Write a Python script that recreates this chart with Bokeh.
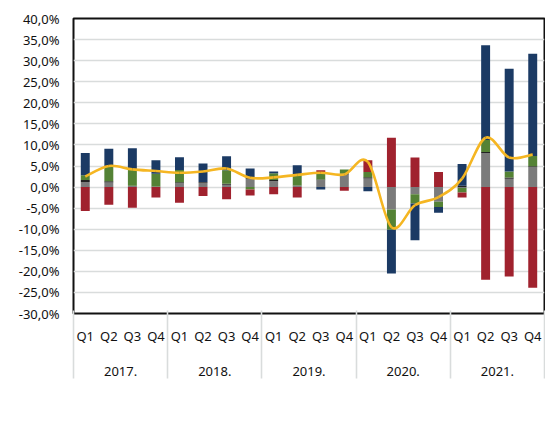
import numpy as np
from bokeh.plotting import figure
from bokeh.models import Range1d, FixedTicker, LinearAxis, Legend, LegendItem
from bokeh.embed import file_html
from bokeh.resources import INLINE

years = ["2017.", "2018.", "2019.", "2020.", "2021."]
quarters = ["Q1", "Q2", "Q3", "Q4"]

# contributions to GDP growth, percentage points
households = [1.2, 1.1, 0.2, 0.1,
              0.9, 1.0, 0.55, 2.0,
              1.4, 0.3, 1.6, 3.0,
              2.05, -5.3, -1.7, -3.5,
              -0.2, 8.1, 2.0, 4.75]
government = [0.5, 0.3, 0.1, 0.05,
              0.25, 0.2, 0.25, 0.2,
              0.3, 0.1, 0.2, 0.15,
              0.3, 0.0, 0.0, 0.0,
              0.3, 0.25, 0.3, 0.2]
investment = [1.1, 3.5, 3.8, 3.0,
              2.9, 0.0, 3.2, -0.6,
              1.6, 2.7, 1.4, 1.0,
              1.2, -4.8, -2.2, -1.2,
              -1.1, 2.8, 1.4, 2.4]
exports = [5.3, 4.2, 5.1, 3.2,
           3.0, 4.4, 3.3, 2.2,
           0.4, 2.1, -0.6, 0.0,
           -1.0, -10.4, -8.7, -1.4,
           5.2, 22.5, 24.4, 24.3]
imports = [-5.7, -4.2, -4.9, -2.5,
           -3.7, -2.1, -2.9, -1.4,
           -1.7, -2.5, 0.8, -0.9,
           2.8, 11.7, 7.0, 3.6,
           -1.2, -22.0, -21.2, -23.9]
gdp = [2.5, 5.0, 4.2, 3.8,
       3.4, 3.7, 4.4, 2.2,
       2.3, 2.9, 3.4, 3.0,
       6.0, -9.5, -4.3, -2.4,
       2.0, 11.7, 7.0, 7.7]
y_ticks = list(range(-30, 45, 5))

series = [
    ("Potrošnja domaćinstva", households, "#7b7b7b"),
    ("Potrošnja vlade", government, "#222222"),
    ("Bruto investicije", investment, "#548235"),
    ("Izvoz", exports, "#1b3a64"),
    ("Uvoz", imports, "#a0222e"),
]

FONT = "Noto Sans"
FS = "13px"
TXT = "#111111"
GRID = "#d9dcdc"
n = len(gdp)
xs = np.arange(n) + 0.5

p = figure(frame_width=471, frame_height=295, x_range=Range1d(0, n), y_range=Range1d(-30, 40),
           output_backend="svg", toolbar_location=None,
           min_border_left=73, min_border_top=18, min_border_right=1, min_border_bottom=0)
p.background_fill_color = "white"
p.border_fill_color = "white"
p.outline_line_color = TXT
p.outline_line_width = 2

renderers = []
pos_base = np.zeros(n)
neg_base = np.zeros(n)
for name, vals, color in series:
    v = np.array(vals, dtype=float)
    bottom = np.where(v >= 0, pos_base, neg_base)
    top = bottom + v
    pos_base = np.where(v >= 0, top, pos_base)
    neg_base = np.where(v < 0, top, neg_base)
    r = p.vbar(x=xs, bottom=bottom, top=top, width=0.38, fill_color=color, line_color=None)
    renderers.append((name, r))

# smoothed GDP line (cubic Bezier segments through the data points)
y = np.array(gdp, dtype=float)
xp = np.concatenate([[xs[0]], xs, [xs[-1]]])
yp = np.concatenate([[y[0]], y, [y[-1]]])
x0, y0 = xs[:-1], y[:-1]
x1, y1 = xs[1:], y[1:]
cx0 = x0 + (xp[2:-1] - xp[0:-3]) / 6.0
cy0 = y0 + (yp[2:-1] - yp[0:-3]) / 6.0
cx1 = x1 - (xp[3:] - xp[1:-2]) / 6.0
cy1 = y1 - (yp[3:] - yp[1:-2]) / 6.0
p.bezier(x0=x0, y0=y0, x1=x1, y1=y1, cx0=cx0, cy0=cy0, cx1=cx1, cy1=cy1,
         line_color="#f5b622", line_width=2.6)

# y axis
p.yaxis.ticker = FixedTicker(ticks=y_ticks)
p.yaxis.major_label_overrides = {t: f"{t},0%" for t in y_ticks}
p.yaxis.major_tick_line_color = None
p.yaxis.minor_tick_line_color = None
p.yaxis.axis_line_color = None
p.yaxis.major_label_standoff = 8
p.yaxis.major_label_text_font = FONT
p.yaxis.major_label_text_font_size = FS
p.yaxis.major_label_text_color = TXT

p.ygrid.grid_line_color = GRID
p.ygrid.grid_line_width = 1.6
p.xgrid.visible = False

# quarter labels
qax = p.xaxis[0]
qax.ticker = FixedTicker(ticks=list(xs))
qax.major_label_overrides = {float(x): quarters[i % 4] for i, x in enumerate(xs)}
qax.major_tick_line_color = None
qax.minor_tick_line_color = None
qax.major_tick_out = 0
qax.major_tick_in = 0
qax.axis_line_color = None
qax.major_label_standoff = 13
qax.major_label_text_font = FONT
qax.major_label_text_font_size = FS
qax.major_label_text_color = TXT

# year labels
year_centers = [4 * i + 2 for i in range(len(years))]
yax = LinearAxis(ticker=FixedTicker(ticks=year_centers),
                 major_label_overrides={c: years[i] for i, c in enumerate(year_centers)})
yax.major_tick_line_color = None
yax.minor_tick_line_color = None
yax.axis_line_color = None
yax.major_tick_out = 0
yax.major_tick_in = 0
yax.major_label_standoff = 19
yax.major_label_text_font = FONT
yax.major_label_text_font_size = FS
yax.major_label_text_color = TXT
p.add_layout(yax, "below")

# year separators: inward ticks of a bottom-most axis
seps = [0.02] + [4 * i for i in range(1, len(years))] + [n - 0.02]
sax = LinearAxis(ticker=FixedTicker(ticks=seps),
                 major_label_overrides={s: "" for s in seps})
sax.major_tick_in = 68
sax.major_tick_out = 0
sax.major_tick_line_color = GRID
sax.major_tick_line_width = 1.6
sax.minor_tick_line_color = None
sax.axis_line_color = None
sax.major_label_standoff = 0
sax.major_label_text_font_size = "1px"
p.add_layout(sax, "below")

legend = Legend(items=[LegendItem(label=name, renderers=[r]) for name, r in renderers[:3]],
                orientation="horizontal", glyph_width=25, glyph_height=10,
                label_standoff=2, spacing=12, label_width=100, padding=0, margin=10,
                border_line_color=None, background_fill_alpha=0,
                label_text_font=FONT, label_text_font_size=FS, label_text_color=TXT,
                location="top_left")
p.add_layout(legend, "below")

open("out.html", "w").write(file_html(p, INLINE))
